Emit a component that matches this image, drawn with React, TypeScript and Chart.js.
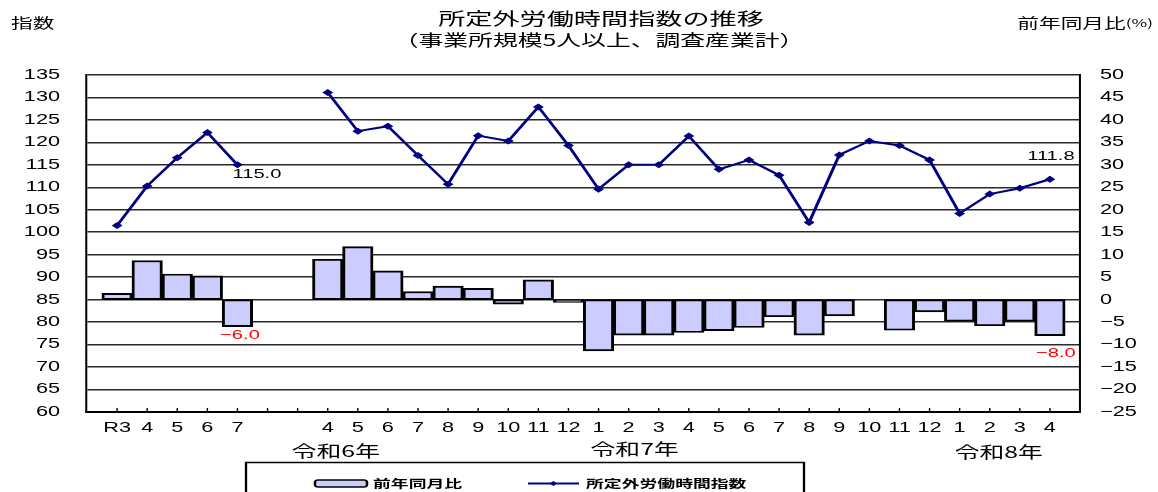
import React, { useEffect, useRef } from 'react';
import { Chart, registerables } from 'chart.js';

Chart.register(...registerables);

// ---------- data ----------
const categories = ['R3', '4', '5', '6', '7', '', '', '4', '5', '6', '7', '8', '9', '10', '11', '12', '1', '2', '3', '4', '5', '6', '7', '8', '9', '10', '11', '12', '1', '2', '3', '4'];
const indexValues = [101.5, 110.3, 116.6, 122.2, 115.0, null, null, 131.1, 122.5, 123.6, 117.1, 110.7, 121.5, 120.3, 127.9, 119.3, 109.6, 115.0, 115.0, 121.4, 114.0, 116.1, 112.7, 102.2, 117.2, 120.3, 119.3, 116.1, 104.2, 108.5, 109.8, 111.8];
const yoyValues = [1.4, 8.7, 5.7, 5.3, -6.0, null, null, 9.0, 11.8, 6.4, 1.8, 3.0, 2.5, -1.0, 4.4, -0.6, -11.4, -7.9, -7.9, -7.3, -6.9, -6.2, -3.8, -7.9, -3.6, 0.0, -6.8, -2.7, -4.8, -5.8, -4.8, -8.0];
const eraLabels = ['令和6年', '令和7年', '令和8年'];
const titleLines = ['所定外労働時間指数の推移', '（事業所規模5人以上、調査産業計）'];
const leftAxisTitle = '指数';
const rightAxisTitle = '前年同月比';
const rightAxisUnit = '(%)';
const seriesNames = ['前年同月比', '所定外労働時間指数'];
const labelledIndexPoints = [4, 31];
const labelledYoyBars = [4, 31];

// ---------- layout constants ----------
const DISPLAY_W = 1158;
const H = 492;
const INNER_W = 747;
const S = DISPLAY_W / INNER_W; // horizontal stretch of the original picture
const px = (d: number) => d / S;
const JP = "'Noto Sans CJK JP', sans-serif";
const NUM = "'Liberation Sans', 'Noto Sans CJK JP', sans-serif";

const eraAnchors = [7.27, 17.2, 29.3];
const eraY = [451, 449, 452];

const fmt = (v: number, digits = 0) => {
  const s = Math.abs(v).toFixed(digits);
  return v < 0 ? '\u2212' + s : s;
};

const stretchPlugin = {
  id: 'stretch',
  beforeDraw(chart: any) {
    chart.ctx.setTransform(S, 0, 0, 1, 0, 0);
  },
};

const decorPlugin = {
  id: 'decor',
  afterDraw(chart: any) {
    const { ctx, chartArea } = chart;
    const xs = chart.scales.x;
    ctx.save();

    // inward tick marks on the category axis
    ctx.strokeStyle = '#000';
    ctx.lineWidth = 0.9;
    categories.forEach((_, i) => {
      const p = xs.getPixelForValue(i);
      ctx.beginPath();
      ctx.moveTo(p, chartArea.bottom);
      ctx.lineTo(p, chartArea.bottom - 4);
      ctx.stroke();
    });

    // titles
    ctx.fillStyle = '#000';
    ctx.textBaseline = 'middle';
    ctx.textAlign = 'center';
    ctx.font = `17.5px ${JP}`;
    ctx.fillText(titleLines[0], px(601), 18);
    ctx.font = `16px ${JP}`;
    ctx.fillText(titleLines[1], px(599), 40);
    ctx.font = `14px ${JP}`;
    ctx.textAlign = 'left';
    ctx.fillText(leftAxisTitle, px(11), 23);
    // right axis title with a smaller unit
    ctx.font = `11px ${JP}`;
    ctx.textAlign = 'right';
    ctx.fillText(rightAxisUnit, px(1153), 23);
    const unitW = ctx.measureText(rightAxisUnit).width;
    ctx.font = `14px ${JP}`;
    ctx.fillText(rightAxisTitle, px(1153) - unitW, 23);

    // era labels
    ctx.font = `16px ${JP}`;
    ctx.textAlign = 'center';
    eraLabels.forEach((t, i) => {
      ctx.fillText(t, xs.getPixelForValue(eraAnchors[i]), eraY[i]);
    });

    // data labels
    const barMeta = chart.getDatasetMeta(0);
    const lineMeta = chart.getDatasetMeta(1);
    ctx.font = `13px ${NUM}`;
    const lineOffsets = [
      [px(19.5), 9.5],
      [px(1), -22.6],
    ];
    labelledIndexPoints.forEach((idx, k) => {
      const el = lineMeta.data[idx];
      const v = indexValues[idx] as number;
      ctx.fillStyle = '#000';
      ctx.fillText(fmt(v, 1), el.x + lineOffsets[k][0], el.y + lineOffsets[k][1]);
    });
    const barOffsets = [
      [px(2.5), 8.5],
      [px(6), 17.5],
    ];
    labelledYoyBars.forEach((idx, k) => {
      const el = barMeta.data[idx];
      const v = yoyValues[idx] as number;
      ctx.fillStyle = '#FF0000';
      ctx.fillText(fmt(v, 1), el.x + barOffsets[k][0], el.y + barOffsets[k][1]);
    });

    // legend
    ctx.strokeStyle = '#000';
    ctx.lineWidth = 1.5;
    ctx.strokeRect(px(246), 462.5, px(804) - px(246), 45);
    // bar swatch
    ctx.beginPath();
    const bx = px(315), bw = px(367) - px(315), byT = 480, bh = 7;
    if ((ctx as any).roundRect) (ctx as any).roundRect(bx, byT, bw, bh, 2);
    else ctx.rect(bx, byT, bw, bh);
    ctx.fillStyle = '#CCCCFF';
    ctx.fill();
    ctx.lineWidth = 1.6;
    ctx.strokeStyle = '#000';
    ctx.stroke();
    ctx.font = `bold 11.5px ${JP}`;
    ctx.fillStyle = '#000';
    ctx.textAlign = 'left';
    ctx.fillText(chart.data.datasets[0].label, px(373), 484);
    // line swatch
    ctx.strokeStyle = '#000080';
    ctx.lineWidth = 2;
    ctx.beginPath();
    ctx.moveTo(px(528), 483.5);
    ctx.lineTo(px(579), 483.5);
    ctx.stroke();
    const cx = px(553.5);
    ctx.fillStyle = '#000080';
    ctx.beginPath();
    ctx.moveTo(cx - 2.5, 483.5);
    ctx.lineTo(cx, 481);
    ctx.lineTo(cx + 2.5, 483.5);
    ctx.lineTo(cx, 486);
    ctx.closePath();
    ctx.fill();
    ctx.fillStyle = '#000';
    ctx.fillText(chart.data.datasets[1].label, px(586), 484);

    ctx.restore();
  },
};

export default function App() {
  const ref = useRef<HTMLCanvasElement>(null);

  useEffect(() => {
    const canvas = ref.current;
    if (!canvas) return;
    canvas.width = INNER_W;
    canvas.height = H;

    const chart = new Chart(canvas, {
      type: 'bar',
      data: {
        datasets: [
          {
            type: 'bar',
            label: seriesNames[0],
            data: yoyValues.map((v, i) => ({ x: i, y: v })) as any,
            yAxisID: 'y1',
            backgroundColor: '#CCCCFF',
            borderColor: '#000',
            borderWidth: 1.9,
            borderSkipped: false,
            barPercentage: 1,
            categoryPercentage: 1,
            order: 1,
          },
          {
            type: 'line',
            label: seriesNames[1],
            data: indexValues.map((v, i) => ({ x: i, y: v })) as any,
            yAxisID: 'y',
            borderColor: '#000080',
            borderWidth: 2,
            backgroundColor: '#000080',
            pointStyle: 'rectRot',
            pointRadius: 2.8,
            pointBorderWidth: 1,
            pointBackgroundColor: '#000080',
            pointBorderColor: '#000080',
            spanGaps: false,
            tension: 0,
            order: 0,
          },
        ],
      },
      options: {
        responsive: false,
        devicePixelRatio: 1,
        animation: false,
        events: [],
        layout: { padding: { top: 75, left: 0, right: 0, bottom: 0 } },
        plugins: {
          legend: { display: false },
          tooltip: { enabled: false },
          title: { display: false },
        },
        scales: {
          x: {
            type: 'linear',
            min: -1,
            max: 32,
            offset: false,
            grid: { display: false, offset: false, drawTicks: false },
            border: { display: true, color: '#000', width: 2 },
            ticks: {
              stepSize: 1,
              autoSkip: false,
              maxRotation: 0,
              minRotation: 0,
              padding: 8,
              color: '#000',
              font: { family: NUM, size: 14 },
              callback: (v: any) => categories[v as number] ?? '',
            },
            afterFit: (s: any) => {
              s.height = 80;
            },
          },
          y: {
            position: 'left',
            min: 60,
            max: 135,
            ticks: {
              stepSize: 5,
              padding: 17.4,
              color: '#000',
              font: { family: NUM, size: 14 },
              callback: (v: any) => fmt(v as number),
            },
            grid: { color: '#2a2a2a', lineWidth: 1.6, drawTicks: false },
            border: { color: '#000', width: 1.3 },
            afterFit: (s: any) => {
              s.width = px(87);
            },
          },
          y1: {
            position: 'right',
            min: -25,
            max: 50,
            ticks: {
              stepSize: 5,
              padding: 12.9,
              color: '#000',
              font: { family: NUM, size: 14 },
              callback: (v: any) => fmt(v as number),
            },
            grid: { display: false, drawTicks: false },
            border: { color: '#000', width: 1.3 },
            afterFit: (s: any) => {
              s.width = INNER_W - px(1080);
            },
          },
        },
      } as any,
      plugins: [stretchPlugin, decorPlugin],
    });

    // widen the bitmap to the full display width and redraw with the stretch transform
    canvas.width = DISPLAY_W;
    canvas.height = H;
    chart.draw();

    return () => {
      chart.destroy();
    };
  }, []);

  return (
    <div style={{ position: 'absolute', left: 0, top: 0, width: DISPLAY_W, height: H, background: '#fff' }}>
      <canvas
        ref={ref}
        width={INNER_W}
        height={H}
        style={{ width: `${DISPLAY_W}px`, height: `${H}px`, display: 'block' }}
      />
    </div>
  );
}
